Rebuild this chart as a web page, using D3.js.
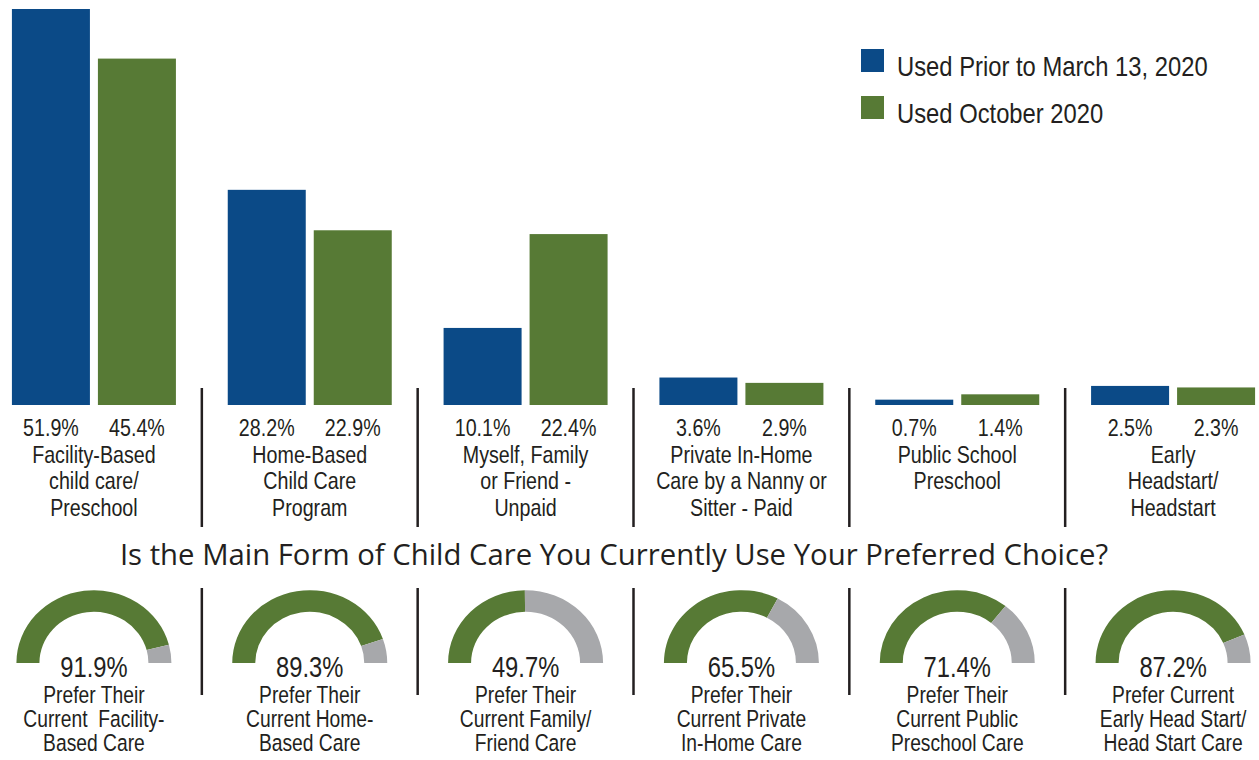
<!DOCTYPE html>
<html>
<head>
<meta charset="utf-8">
<script src="https://cdn.jsdelivr.net/npm/d3@7"></script>
<style>
  html, body { margin: 0; padding: 0; background: #ffffff; }
  svg { display: block; }
  .narrow { font-family: "Liberation Sans", Arial, sans-serif; fill: #231f20; }
</style>
</head>
<body>
<svg id="chart" width="1259" height="760"></svg>
<script>
// Child care types and the share of families using each
const categories = [
  "Facility-Based child care/ Preschool",
  "Home-Based Child Care Program",
  "Myself, Family or Friend - Unpaid",
  "Private In-Home Care by a Nanny or Sitter - Paid",
  "Public School Preschool",
  "Early Headstart/ Headstart"
];
const categoryLines = [
  ["Facility-Based", "child care/", "Preschool"],
  ["Home-Based", "Child Care", "Program"],
  ["Myself, Family", "or Friend -", "Unpaid"],
  ["Private In-Home", "Care by a Nanny or", "Sitter - Paid"],
  ["Public School", "Preschool"],
  ["Early", "Headstart/", "Headstart"]
];
const seriesNames = ["Used Prior to March 13, 2020", "Used October 2020"];
const usedPrior = [51.9, 28.2, 10.1, 3.6, 0.7, 2.5];
const usedOctober = [45.4, 22.9, 22.4, 2.9, 1.4, 2.3];

// Share who say the current form of care is their preferred choice
const preferred = [91.9, 89.3, 49.7, 65.5, 71.4, 87.2];
const preferredLines = [
  ["Prefer Their", "Current  Facility-", "Based Care"],
  ["Prefer Their", "Current Home-", "Based Care"],
  ["Prefer Their", "Current Family/", "Friend Care"],
  ["Prefer Their", "Current Private", "In-Home Care"],
  ["Prefer Their", "Current Public", "Preschool Care"],
  ["Prefer Current", "Early Head Start/", "Head Start Care"]
];
const gaugeTitle = "Is the Main Form of Child Care You Currently Use Your Preferred Choice?";

const colors = { prior: "#0b4a87", october: "#577a35", rest: "#a7a8ab", rule: "#231f20" };

const svg = d3.select("#chart");

// Condensed text: a regular sans face squeezed horizontally around its anchor point.
function narrowText(parent, x, y, size, lines, lineHeight, anchor = "middle", squeeze = 0.82) {
  const t = parent.append("text")
    .attr("class", "narrow")
    .attr("transform", `translate(${x},${y}) scale(${squeeze},1)`)
    .attr("text-anchor", anchor)
    .attr("font-size", size)
    .style("white-space", "pre");
  t.selectAll("tspan").data(lines).join("tspan")
    .attr("x", 0)
    .attr("y", (l, j) => j * lineHeight)
    .text(l => l);
  return t;
}

// ---- grouped bars ----
const x0 = d3.scaleBand().domain(categories).range([-14, 1281]).padding(0);
const groupWidth = 164;
const x1 = d3.scaleBand().domain(seriesNames).range([0, groupWidth]).paddingInner(0.093);
const y = d3.scaleLinear().domain([0, 51.9]).range([405, 9]);
const groupLeft = c => x0(c) + (x0.bandwidth() - groupWidth) / 2;
const center = c => x0(c) + x0.bandwidth() / 2;

const rows = categories.map((c, i) => ({
  cat: c, lines: categoryLines[i],
  vals: [
    { s: seriesNames[0], v: usedPrior[i], color: colors.prior },
    { s: seriesNames[1], v: usedOctober[i], color: colors.october }
  ]
}));

const groups = svg.append("g").selectAll("g").data(rows).join("g")
  .attr("transform", d => `translate(${groupLeft(d.cat)},0)`);

groups.selectAll("rect").data(d => d.vals).join("rect")
  .attr("x", d => x1(d.s))
  .attr("y", d => y(d.v))
  .attr("width", x1.bandwidth())
  .attr("height", d => y(0) - y(d.v))
  .attr("fill", d => d.color);

groups.each(function(d) {
  const g = d3.select(this);
  d.vals.forEach(v => {
    narrowText(g, x1(v.s) + x1.bandwidth() / 2, 436, 24, [v.v.toFixed(1) + "%"], 0);
  });
});

const catLabels = svg.append("g");
rows.forEach(d => narrowText(catLabels, center(d.cat), 463, 24, d.lines, 26.5));

// separators between categories
const seps = categories.slice(1).map(c => x0(c));
svg.append("g").selectAll("line").data(seps).join("line")
  .attr("x1", d => d).attr("x2", d => d)
  .attr("y1", 388).attr("y2", 527)
  .attr("stroke", colors.rule).attr("stroke-width", 2.5);

// ---- legend ----
const legend = svg.append("g").attr("transform", "translate(861,49)");
const legendItems = legend.selectAll("g").data([
  { name: seriesNames[0], color: colors.prior },
  { name: seriesNames[1], color: colors.october }
]).join("g").attr("transform", (d, i) => `translate(0,${i * 47})`);
legendItems.append("rect").attr("width", 23).attr("height", 23).attr("fill", d => d.color);
legendItems.each(function(d) {
  narrowText(d3.select(this), 36, 27, 28, [d.name], 0, "start", 0.85);
});

// ---- title for gauges ----
svg.append("text")
  .attr("x", 614).attr("y", 565)
  .attr("text-anchor", "middle")
  .attr("font-family", "'Open Sans', sans-serif")
  .attr("font-size", 29.3)
  .attr("fill", "#231f20")
  .text(gaugeTitle);

// ---- half-donut gauges ----
const angle = d3.scaleLinear().domain([0, 100]).range([-Math.PI / 2, Math.PI / 2]);
const arc = d3.arc().innerRadius(54.5).outerRadius(77.5);

const gauges = svg.append("g").selectAll("g").data(categories.map((c, i) => ({
  cat: c, v: preferred[i], lines: preferredLines[i]
}))).join("g")
  .attr("transform", d => `translate(${center(d.cat)},663)`);

const arcs = gauges.append("g").attr("transform", "scale(1,0.94)");
arcs.append("path")
  .attr("d", d => arc({ startAngle: angle(0), endAngle: angle(d.v) }))
  .attr("fill", colors.october);
arcs.append("path")
  .attr("d", d => arc({ startAngle: angle(d.v), endAngle: angle(100) }))
  .attr("fill", colors.rest);

gauges.each(function(d) {
  const g = d3.select(this);
  narrowText(g, 0, 14, 29, [d.v.toFixed(1) + "%"], 0);
  narrowText(g, 0, 40, 23.5, d.lines, 24);
});

svg.append("g").selectAll("line").data(seps).join("line")
  .attr("x1", d => d).attr("x2", d => d)
  .attr("y1", 588).attr("y2", 695)
  .attr("stroke", colors.rule).attr("stroke-width", 2.5);
</script>
</body>
</html>
